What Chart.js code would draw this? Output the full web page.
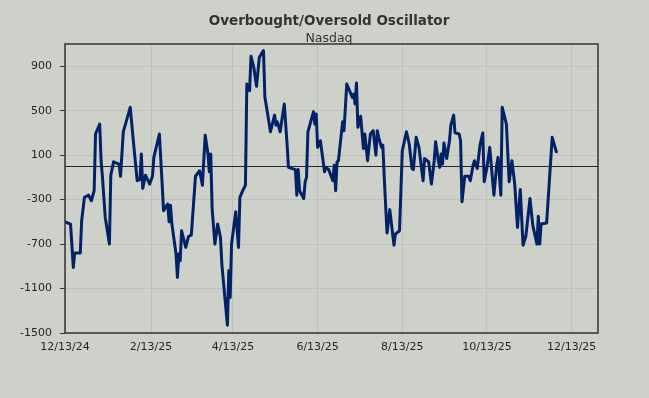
<!DOCTYPE html>
<html>
<head>
<meta charset="utf-8">
<title>Overbought/Oversold Oscillator</title>
<script src="https://cdn.jsdelivr.net/npm/chart.js@4.4.1/dist/chart.umd.min.js"></script>
<style>
    html, body { margin: 0; padding: 0; background: #cdd1ca; }
    #oscChart { display: block; }
</style>
</head>
<body>
<canvas id="oscChart" width="649" height="398"></canvas>
<script>
// Días transcurridos desde 12/13/24
const offsetDays = [
    0, 4, 6, 7, 11, 12, 14, 17, 19, 21,
    22, 25, 26, 27, 29, 32, 33, 35, 39, 40,
    42, 47, 49, 52, 54, 55, 56, 58, 61, 63,
    64, 68, 70, 71, 74, 75, 76, 77, 80, 81,
    82, 83, 84, 87, 89, 91, 94, 97, 99, 101,
    103, 104, 105, 106, 108, 110, 112, 113, 117, 118,
    119, 120, 123, 125, 126, 128, 130, 131, 133, 134,
    136, 138, 140, 143, 144, 146, 148, 151, 152, 153,
    155, 158, 160, 161, 166, 167, 168, 169, 172, 173,
    174, 175, 179, 180, 181, 182, 184, 187, 188, 190,
    193, 194, 195, 196, 197, 200, 201, 203, 207, 208,
    209, 210, 211, 213, 215, 216, 218, 220, 222, 224,
    225, 226, 228, 229, 230, 232, 234, 237, 238, 241,
    243, 246, 248, 250, 251, 253, 255, 258, 259, 262,
    264, 266, 267, 269, 270, 271, 272, 273, 275, 277,
    278, 280, 281, 284, 285, 286, 288, 291, 292, 294,
    295, 297, 299, 301, 302, 304, 306, 309, 311, 312,
    314, 315, 318, 320, 322, 324, 326, 328, 330, 332,
    335, 337, 340, 341, 342, 343, 347, 351, 354
];

// Valores del oscilador (Nasdaq)
const oscValues = [
    -500, -520, -910, -780, -780, -490, -280, -260, -310, -220,
    290, 380, 50, -100, -460, -700, -80, 40, 20, -90,
    310, 530, 260, -130, -120, 110, -200, -80, -160, -90,
    80, 290, -160, -400, -340, -500, -350, -520, -790, -1000,
    -790, -850, -580, -730, -630, -620, -90, -40, -170, 280,
    110, -50, 110, -380, -700, -520, -640, -880, -1430, -940,
    -1180, -700, -410, -730, -280, -220, -170, 740, 680, 990,
    890, 720, 980, 1040, 620, 470, 310, 460, 370, 400,
    310, 560, 200, -10, -30, -260, -30, -220, -290, -140,
    -100, 310, 490, 380, 470, 170, 230, -50, -10, -30,
    -130, 10, -220, 40, 50, 400, 320, 740, 620, 650,
    560, 750, 350, 450, 160, 290, 50, 290, 320, 100,
    320, 260, 170, 190, -100, -600, -390, -710, -610, -580,
    140, 310, 200, -20, -30, 260, 170, -130, 70, 40,
    -160, 50, 220, 50, -10, 110, 20, 210, 70, 230,
    370, 460, 300, 290, 230, -320, -90, -90, -130, 10,
    50, -20, 190, 300, -140, -10, 170, -260, 10, 80,
    -260, 530, 380, -140, 50, -160, -550, -210, -710, -630,
    -290, -530, -700, -450, -700, -520, -510, 260, 130
];

// Marcas del eje X
const tickDays = [0, 62, 121, 182, 243, 304, 365];
const tickLabels = ['12/13/24', '2/13/25', '4/13/25', '6/13/25', '8/13/25', '10/13/25', '12/13/25'];

// Marcas del eje Y
const yTicks = [-1500, -1100, -700, -300, 100, 500, 900];

const chartTitle = 'Overbought/Oversold Oscillator';
const chartSubtitle = 'Nasdaq';

(function () {
    Chart.defaults.font.family = '"DejaVu Sans", Verdana, sans-serif';
    Chart.defaults.color = '#262626';

    // Títulos y marco del área de trazado
    const framePlugin = {
        id: 'frame',
        beforeDatasetsDraw(chart) {
            const { ctx, chartArea, scales } = chart;
            const y0 = Math.round(scales.y.getPixelForValue(0)) + 0.5;
            ctx.save();
            ctx.strokeStyle = '#262626';
            ctx.lineWidth = 1;
            ctx.beginPath();
            ctx.moveTo(chartArea.left, y0);
            ctx.lineTo(chartArea.right, y0);
            ctx.stroke();
            ctx.restore();
        },
        afterDraw(chart) {
            const { ctx, chartArea } = chart;
            ctx.save();
            ctx.strokeStyle = '#333333';
            ctx.lineWidth = 1.5;
            ctx.strokeRect(chartArea.left, chartArea.top, chartArea.right - chartArea.left, chartArea.bottom - chartArea.top);

            ctx.fillStyle = '#333333';
            ctx.textAlign = 'center';
            ctx.textBaseline = 'alphabetic';
            ctx.font = 'bold 13.5px "DejaVu Sans", Verdana, sans-serif';
            ctx.fillText(chartTitle, 329, 25);
            ctx.font = '12.5px "DejaVu Sans", Verdana, sans-serif';
            ctx.fillText(chartSubtitle, 329, 42);
            ctx.restore();
        }
    };

    const points = offsetDays.map((d, i) => ({ x: d, y: oscValues[i] }));

    const ctx = document.getElementById('oscChart').getContext('2d');
    new Chart(ctx, {
        type: 'line',
        data: {
            datasets: [{
                label: chartSubtitle,
                data: points,
                borderColor: '#032265',
                borderWidth: 3,
                borderJoinStyle: 'round',
                borderCapStyle: 'round',
                pointRadius: 0,
                tension: 0,
                fill: false
            }]
        },
        options: {
            responsive: false,
            animation: false,
            layout: { padding: { top: 44, right: 51, left: 0, bottom: 0 } },
            plugins: {
                legend: { display: false },
                title: { display: false },
                tooltip: { enabled: false }
            },
            scales: {
                x: {
                    type: 'linear',
                    min: 0,
                    max: 384,
                    afterBuildTicks: (scale) => { scale.ticks = tickDays.map(v => ({ value: v })); },
                    afterFit: (scale) => { scale.height = 65; },
                    grid: { color: '#bfbfbf', lineWidth: 1, drawTicks: false },
                    border: { display: false },
                    ticks: {
                        autoSkip: false,
                        maxRotation: 0,
                        padding: 8,
                        font: { size: 11 },
                        callback: (value) => tickLabels[tickDays.indexOf(value)]
                    }
                },
                y: {
                    min: -1500,
                    max: 1100,
                    afterBuildTicks: (scale) => { scale.ticks = yTicks.map(v => ({ value: v })); },
                    afterFit: (scale) => { scale.width = 65; },
                    grid: { color: '#bfbfbf', lineWidth: 1, tickLength: 5, tickColor: '#333333' },
                    border: { display: false },
                    ticks: {
                        padding: 8,
                        font: { size: 11 },
                        callback: (value) => String(value)
                    }
                }
            }
        },
        plugins: [framePlugin]
    });
})();
</script>
</body>
</html>
